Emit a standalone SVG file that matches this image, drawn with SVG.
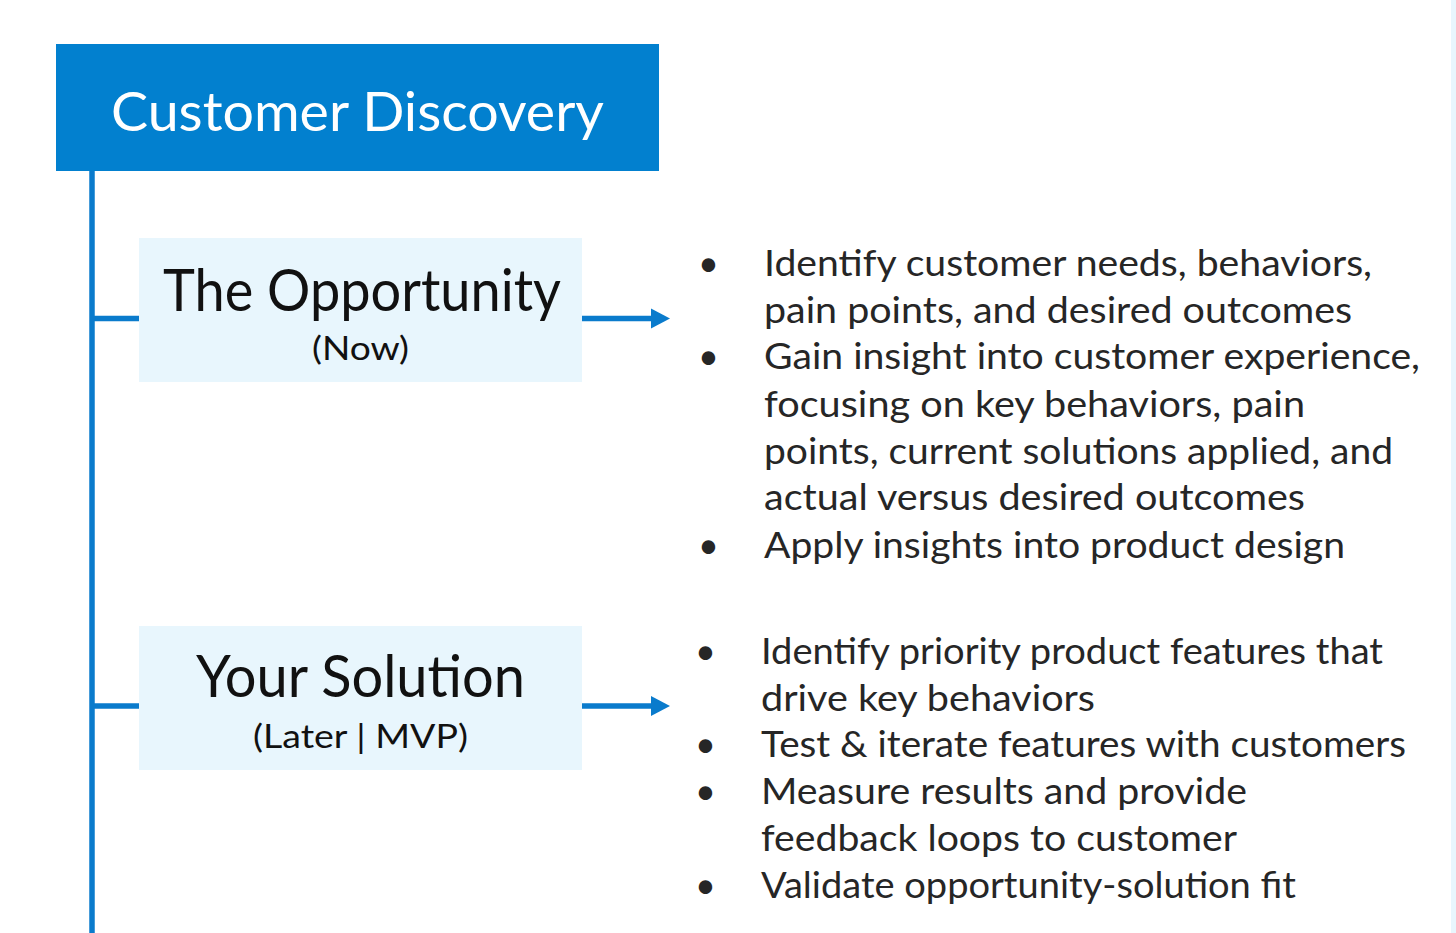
<svg xmlns="http://www.w3.org/2000/svg" width="1456" height="933" viewBox="0 0 1456 933">
<style>
.t{font-family:Lato,"Open Sans","Liberation Sans",sans-serif;}
.b{font-family:Lato,"Open Sans","Liberation Sans",sans-serif;font-size:36px;fill:#262626;}
.nb{fill:#e8f6fd;}
.ln{stroke:#0a7bcc;stroke-width:5.5;fill:none;}
</style>
<defs>
<marker id="ah" markerUnits="userSpaceOnUse" markerWidth="20" markerHeight="20" refX="0" refY="10" orient="auto" overflow="visible">
<path d="M0,0 L19,10 L0,20 Z" fill="#0a7bcc"/>
</marker>
</defs>
<rect x="0" y="0" width="1456" height="933" fill="#ffffff"/>
<rect x="1451" y="0" width="5" height="933" fill="#e8f6fd"/>
<g id="connectors">
<line class="ln" x1="92" y1="171" x2="92" y2="933"/>
<line class="ln" x1="92" y1="318.5" x2="139" y2="318.5"/>
<line class="ln" x1="92" y1="706" x2="139" y2="706"/>
<line class="ln" x1="582" y1="318.5" x2="651" y2="318.5" marker-end="url(#ah)"/>
<line class="ln" x1="582" y1="706" x2="651" y2="706" marker-end="url(#ah)"/>
</g>
<g id="header">
<rect x="56" y="44" width="603" height="127" fill="#0280cf"/>
<text class="t" x="111" y="131" font-size="54" fill="#ffffff" textLength="493" lengthAdjust="spacingAndGlyphs">Customer Discovery</text>
</g>
<g id="opportunity">
<rect class="nb" x="139" y="238" width="443" height="144"/>
<text class="t" x="163" y="311" font-size="58" fill="#111111" textLength="398" lengthAdjust="spacingAndGlyphs">The Opportunity</text>
<text class="t" x="312" y="360" font-size="33" fill="#111111" textLength="97" lengthAdjust="spacingAndGlyphs">(Now)</text>
</g>
<g id="solution">
<rect class="nb" x="139" y="626" width="443" height="144"/>
<text class="t" x="196" y="697" font-size="58" fill="#111111" textLength="329" lengthAdjust="spacingAndGlyphs">Your Solution</text>
<text class="t" x="253" y="748" font-size="33" fill="#111111" textLength="215" lengthAdjust="spacingAndGlyphs">(Later | MVP)</text>
</g>
<g id="opportunity-bullets">
<text class="b" x="698" y="276">•</text>
<text class="b" x="764" y="276" textLength="608" lengthAdjust="spacingAndGlyphs">Identify customer needs, behaviors,</text>
<text class="b" x="764" y="323" textLength="588" lengthAdjust="spacingAndGlyphs">pain points, and desired outcomes</text>
<text class="b" x="698" y="369">•</text>
<text class="b" x="764" y="369" textLength="656" lengthAdjust="spacingAndGlyphs">Gain insight into customer experience,</text>
<text class="b" x="764" y="417" textLength="541" lengthAdjust="spacingAndGlyphs">focusing on key behaviors, pain</text>
<text class="b" x="764" y="464" textLength="629" lengthAdjust="spacingAndGlyphs">points, current solutions applied, and</text>
<text class="b" x="764" y="510" textLength="541" lengthAdjust="spacingAndGlyphs">actual versus desired outcomes</text>
<text class="b" x="698" y="558">•</text>
<text class="b" x="764" y="558" textLength="581" lengthAdjust="spacingAndGlyphs">Apply insights into product design</text>
</g>
<g id="solution-bullets">
<text class="b" x="695" y="664">•</text>
<text class="b" x="761" y="664" textLength="622" lengthAdjust="spacingAndGlyphs">Identify priority product features that</text>
<text class="b" x="761" y="711" textLength="334" lengthAdjust="spacingAndGlyphs">drive key behaviors</text>
<text class="b" x="695" y="757">•</text>
<text class="b" x="761" y="757" textLength="645" lengthAdjust="spacingAndGlyphs">Test &amp; iterate features with customers</text>
<text class="b" x="695" y="804">•</text>
<text class="b" x="761" y="804" textLength="486" lengthAdjust="spacingAndGlyphs">Measure results and provide</text>
<text class="b" x="761" y="851" textLength="476" lengthAdjust="spacingAndGlyphs">feedback loops to customer</text>
<text class="b" x="695" y="898">•</text>
<text class="b" x="761" y="898" textLength="535" lengthAdjust="spacingAndGlyphs">Validate opportunity-solution fit</text>
</g>
</svg>
